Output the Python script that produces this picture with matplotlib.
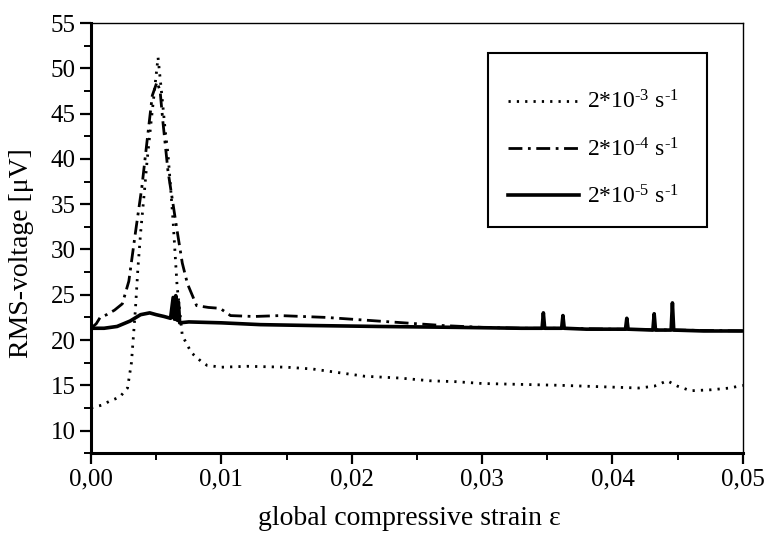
import matplotlib
matplotlib.use("Agg")
import matplotlib.pyplot as plt
from matplotlib.ticker import MultipleLocator, FuncFormatter
from matplotlib.patches import Rectangle

plt.rcParams['font.family'] = ['Liberation Serif', 'DejaVu Serif']
plt.rcParams['mathtext.fontset'] = 'custom'
plt.rcParams['mathtext.rm'] = 'Liberation Serif'
plt.rcParams['mathtext.it'] = 'Liberation Serif:italic'
plt.rcParams['mathtext.bf'] = 'Liberation Serif:bold'

# 2*10^-3 s^-1 (dotted)
x_fast = [0.0, 0.0008, 0.0015, 0.0022, 0.0028, 0.0031, 0.0034, 0.0036, 0.0038, 0.0041, 0.0043,
          0.0046, 0.0049, 0.00514, 0.0054, 0.0057, 0.0059, 0.0061, 0.0063, 0.0066, 0.0070,
          0.0077, 0.0084, 0.0089, 0.0100, 0.0120, 0.0150, 0.0170, 0.0190, 0.0210, 0.0237,
          0.0260, 0.0280, 0.0300, 0.0330, 0.0360, 0.0380, 0.0400, 0.0420, 0.0432, 0.0442,
          0.0450, 0.0460, 0.0475, 0.0490, 0.0500]
y_fast = [12.5, 12.8, 13.3, 13.7, 14.7, 17.5, 23.3, 28.0, 31.8, 36.5, 39.8,
          44.0, 48.0, 51.2, 47.5, 43.0, 40.6, 36.9, 33.0, 26.0, 20.5,
          18.6, 17.7, 17.2, 17.0, 17.1, 17.0, 16.8, 16.4, 16.0, 15.8,
          15.5, 15.4, 15.2, 15.1, 15.0, 14.9, 14.8, 14.7, 14.9, 15.5,
          14.9, 14.4, 14.5, 14.7, 15.0]

# 2*10^-4 s^-1 (dash-dot)
x_mid = [0.0, 0.0004, 0.0007, 0.0012, 0.0018, 0.0024, 0.0029, 0.0034, 0.0039, 0.0043,
         0.0047, 0.00506, 0.0053, 0.0055, 0.0059, 0.0066, 0.0070, 0.0074, 0.0081, 0.0090,
         0.0099, 0.0107, 0.0125, 0.0145, 0.0180, 0.0210, 0.0240, 0.0270, 0.0300, 0.0330,
         0.0360, 0.0400, 0.0450, 0.0500]
y_mid = [21.3, 21.8, 22.5, 22.8, 23.3, 24.0, 26.5, 31.8, 36.9, 42.0,
         47.0, 48.5, 47.5, 44.3, 38.7, 32.1, 28.5, 26.2, 23.8, 23.6,
         23.5, 22.7, 22.6, 22.7, 22.5, 22.2, 21.9, 21.6, 21.4, 21.3,
         21.3, 21.2, 21.1, 21.0]

# 2*10^-5 s^-1 (solid)
x_slow = [0.0, 0.0010, 0.0020, 0.0030, 0.0038, 0.0045, 0.0050, 0.0056, 0.0061, 0.0063,
          0.0064, 0.0065, 0.0066, 0.0067, 0.0068, 0.0075, 0.0100, 0.0130, 0.0170, 0.0220,
          0.0280, 0.0330, 0.0346, 0.0347, 0.0348, 0.0361, 0.0362, 0.0363, 0.0380, 0.0410,
          0.0411, 0.0412, 0.0431, 0.0432, 0.0433, 0.0445, 0.0446, 0.0447, 0.0470, 0.0500]
y_slow = [21.3, 21.3, 21.5, 22.1, 22.8, 23.0, 22.8, 22.6, 22.4, 24.7,
          22.3, 24.9, 22.2, 24.2, 21.9, 22.0, 21.9, 21.7, 21.6, 21.5,
          21.4, 21.3, 21.3, 23.0, 21.3, 21.3, 22.7, 21.3, 21.2, 21.2,
          22.4, 21.2, 21.1, 22.9, 21.1, 21.1, 24.1, 21.1, 21.0, 21.0]

labels = ['2*10$^{\u20103}$ s$^{\u20101}$',
          '2*10$^{\u20104}$ s$^{\u20101}$',
          '2*10$^{\u20105}$ s$^{\u20101}$']

fig = plt.figure(figsize=(7.65, 5.37), dpi=100)
ax = fig.add_axes([0.119, 0.156, 0.852, 0.801])

ax.plot(x_fast, y_fast, color='black', lw=2.0, linestyle=(0, (0.8, 2.2)), label=labels[0])
ax.plot(x_mid, y_mid, color='black', lw=2.0, linestyle=(0, (5, 2, 1, 2)), label=labels[1])
ax.plot(x_slow, y_slow, color='black', lw=2.6, linestyle='-', label=labels[2])

ax.set_xlim(0, 0.05)
ax.set_ylim(7.5, 55)
ax.xaxis.set_major_locator(MultipleLocator(0.01))
ax.xaxis.set_minor_locator(MultipleLocator(0.005))
ax.yaxis.set_major_locator(MultipleLocator(5))
ax.yaxis.set_minor_locator(MultipleLocator(2.5))
ax.xaxis.set_major_formatter(FuncFormatter(lambda v, p: f"{v:.2f}".replace('.', ',')))
ax.yaxis.set_major_formatter(FuncFormatter(lambda v, p: f"{v:.0f}"))

ax.tick_params(axis='both', which='major', direction='out', length=8, width=1.6,
               labelsize=18, pad=3)
ax.tick_params(axis='both', which='minor', direction='out', length=5, width=1.4)
ax.spines['left'].set_linewidth(2.2)
ax.spines['bottom'].set_linewidth(2.2)
ax.spines['top'].set_linewidth(1.0)
ax.spines['right'].set_linewidth(1.0)

ax.set_xlabel('global compressive strain ε', fontsize=20)
ax.set_ylabel('RMS-voltage [μV]', fontsize=20)
ax.xaxis.set_label_coords(0.489, -0.123)
ax.yaxis.set_label_coords(-0.088, 0.465)

leg = ax.legend(loc='upper left', bbox_to_anchor=(0.6396, 0.843), borderaxespad=0,
                fontsize=17, frameon=False,
                handlelength=3.0, handletextpad=0.35, labelspacing=1.02,
                borderpad=0)
ax.add_patch(Rectangle((0.609, 0.5256), 0.336, 0.4047, transform=ax.transAxes,
                       fill=False, edgecolor='black', lw=1.5, zorder=5))

fig.savefig('out.png', dpi=100)
